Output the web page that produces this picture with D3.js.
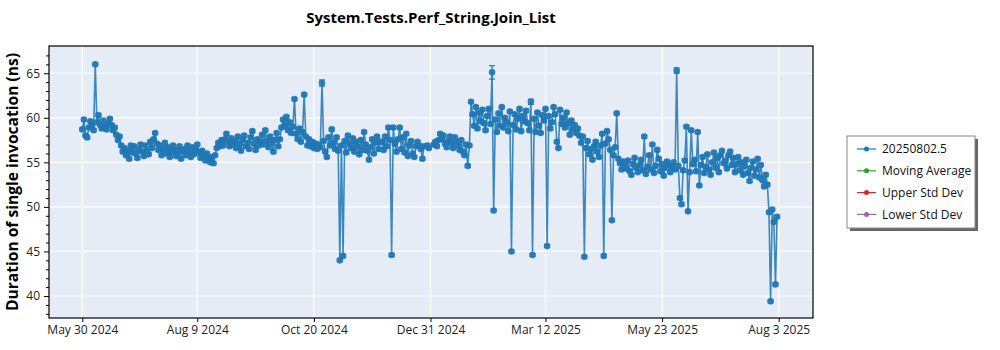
<!DOCTYPE html>
<html>
<head>
<meta charset="utf-8">
<script src="https://cdn.jsdelivr.net/npm/d3@7"></script>
<style>
  body { margin: 0; background: #fff; }
  text { font-family: "Open Sans", "Noto Sans", sans-serif; }
  .tick text { font-size: 12px; fill: #222; }
  .domain { stroke: none; }
</style>
</head>
<body>
<script>
// --- data ---
var chartTitle = "System.Tests.Perf_String.Join_List";
var yLabel = "Duration of single invocation (ns)";
var legendNames = ["20250802.5", "Moving Average", "Upper Std Dev", "Lower Std Dev"];
var legendColors = ["#1f77b4", "#2ca02c", "#d62728", "#9467bd"];

var xTickDates = ["2024-05-30", "2024-08-09", "2024-10-20", "2024-12-31", "2025-03-12", "2025-05-23", "2025-08-03"];
var yTicks = [40, 45, 50, 55, 60, 65];

// first day of each block, values are one per day from there
var blockStarts = ["2024-05-30", "2024-06-01", "2024-07-01", "2024-08-01", "2024-09-01", "2024-10-01", "2024-11-01",
                   "2024-12-01", "2025-01-01", "2025-02-01", "2025-03-01", "2025-04-01", "2025-05-01", "2025-06-01",
                   "2025-07-01", "2025-08-01"];

var may2024 = [58.7, 59.8];
var jun2024 = [58.0, 57.8, 58.9, 59.6, 59.1, 58.6, 66.0, 59.5, 60.3, 59.2, 58.8, 59.7, 59.0, 58.7, 59.4, 59.9, 59.2,
               58.6, 58.9, 58.1, 57.5, 57.9, 56.9, 56.2, 56.6, 55.8, 56.3, 55.4, 56.9, 56.1];
var jul2024 = [56.8, 56.0, 55.5, 56.4, 57.0, 56.2, 55.7, 56.9, 56.3, 55.9, 57.3, 56.6, 57.6, 58.3, 57.1, 56.4, 56.9,
               55.8, 56.5, 57.2, 56.0, 56.7, 55.6, 56.2, 56.9, 56.4, 55.7, 56.1, 56.8, 55.4, 56.3];
var aug2024 = [56.5, 55.8, 56.9, 56.2, 55.6, 56.7, 55.9, 56.4, 57.0, 56.1, 55.5, 56.3, 55.7, 55.2, 56.0, 55.4, 55.0,
               55.6, 54.9, 55.8, 56.6, 57.2, 56.8, 57.5, 56.9, 57.6, 58.2, 57.3, 56.8, 57.7, 57.1];
var sep2024 = [57.4, 56.6, 57.9, 57.0, 56.3, 57.5, 58.0, 56.8, 57.2, 56.5, 57.8, 58.5, 57.1, 56.4, 57.6, 56.9, 57.3,
               58.1, 57.0, 58.6, 57.4, 56.7, 57.9, 57.2, 56.2, 57.5, 58.3, 56.8, 57.6, 58.9];
var oct2024 = [59.8, 59.1, 60.1, 58.6, 59.5, 58.3, 59.0, 62.1, 58.2, 57.6, 58.8, 57.3, 58.4, 62.6, 57.9, 56.9, 57.6,
               56.8, 57.3, 56.6, 57.1, 56.5, 57.0, 56.7, 63.9, 57.4, 56.2, 55.6, 57.8, 56.9, 58.7];
var nov2024 = [57.2, 56.5, 57.8, 56.3, 44.0, 56.9, 44.5, 57.4, 56.1, 58.0, 57.1, 56.6, 57.7, 56.2, 57.3, 56.8, 55.9,
               57.5, 56.4, 58.4, 57.0, 56.3, 55.3, 56.7, 57.6, 56.0, 57.2, 57.9, 56.5, 57.3];
var dec2024 = [57.3, 56.4, 57.9, 56.8, 58.9, 57.5, 44.6, 58.9, 57.1, 56.2, 57.6, 58.9, 56.5, 57.8, 56.1, 58.2, 55.7,
               56.9, 57.4, 56.0, 55.6, 56.8, 57.3, 56.9, 56.5, 55.4, 56.8, null, 56.9, 56.6, null];
var jan2025 = [null, 57.0, 57.3, 56.8, 57.5, 58.2, 57.6, 58.0, 57.1, 56.7, 57.4, 57.9, 57.2, 56.6, 57.8, 57.3, 56.9,
               56.4, 57.5, 56.2, 55.8, 57.0, 54.6, 56.9, 61.8, 60.4, 59.1, 61.2, 58.8, 60.6, 59.6];
var feb2025 = [60.9, 59.4, 58.6, 60.2, 61.0, 59.3, 65.1, 49.6, 59.8, 58.4, 60.5, 59.1, 61.2, 58.9, 60.0, 59.5, 58.5,
               60.7, 45.0, 59.2, 60.4, 58.7, 59.9, 61.0, 58.5, 60.2, 59.6, 60.8];
var mar2025 = [59.4, 58.6, 61.8, 44.6, 59.9, 58.4, 60.6, 59.1, 58.3, 60.3, 59.7, 61.0, 45.6, 60.2, 58.8, 59.5, 61.2,
               60.4, 57.3, 56.6, 60.9, 59.3, 60.0, 58.9, 60.6, 59.4, 58.1, 59.7, 58.7, 59.2, 58.3];
var apr2025 = [58.8, 58.0, 57.2, 57.9, 44.4, 56.6, 57.4, 55.9, 56.5, 55.3, 56.8, 57.3, 56.2, 55.6, 56.9, 58.2, 44.5,
               57.1, 58.5, 57.6, 56.4, 48.5, 55.8, 56.7, 60.5, 55.4, 54.9, 54.2, 55.1, 54.6];
var may2025 = [54.3, 55.2, 54.0, 53.6, 54.8, 55.5, 54.4, 53.9, 54.7, 55.3, 54.1, 57.9, 53.7, 54.5, 55.8, 54.2, 57.0,
               53.8, 54.6, 56.4, 55.4, 54.0, 54.8, 53.5, 54.4, 55.1, 54.7, 53.9, 54.5, 55.0, 54.2];
var jun2025 = [65.3, 54.6, 51.0, 50.3, 54.1, 55.2, 59.0, 49.5, 53.9, 58.6, 54.8, 55.3, 54.0, 58.4, 52.4, 54.7, 55.6,
               53.8, 54.5, 55.9, 54.2, 53.6, 55.0, 56.1, 54.4, 55.5, 53.9, 55.8, 56.3, 54.9];
var jul2025 = [55.2, 54.3, 55.8, 56.2, 54.7, 55.5, 53.9, 54.8, 55.6, 54.1, 55.0, 53.6, 54.6, 55.3, 53.8, 52.9, 54.4,
               55.1, 53.5, 54.2, 55.4, 53.3, 54.7, 53.0, 52.3, 53.6, 52.5, 49.4, 39.4, 49.7, 48.3];
var aug2025 = [41.3, 48.9];

var blocks = [may2024, jun2024, jul2024, aug2024, sep2024, oct2024, nov2024, dec2024,
              jan2025, feb2025, mar2025, apr2025, may2025, jun2025, jul2025, aug2025];

// error bars: half width, with a few wider ones
var typicalError = 0.15;
var wideErrors = [["2024-10-25", 0.35], ["2025-02-07", 0.75], ["2025-03-03", 0.3], ["2025-06-01", 0.3]];

// --- layout ---
var w = 1000;
var h = 350;
var plot = { left: 49, right: 813, top: 46, bottom: 318 };

var parseDay = d3.timeParse("%Y-%m-%d");
var errLookup = {};
wideErrors.forEach(function(e){ errLookup[e[0]] = e[1]; });

var dataset = [];
blocks.forEach(function(vals, b){
    var start = parseDay(blockStarts[b]);
    vals.forEach(function(v, i){
        if (v === null) return;
        var date = d3.timeDay.offset(start, i);
        var key = d3.timeFormat("%Y-%m-%d")(date);
        dataset.push({ date: date, value: v, err: errLookup[key] || typicalError });
    });
});

var svg = d3.select("body")
    .append("svg")
    .attr("width", w)
    .attr("height", h);

var xScale = d3.scaleTime()
    .domain([new Date(2024, 4, 9, 10, 30), new Date(2025, 7, 24, 4, 20)])
    .range([plot.left, plot.right]);

var yScale = d3.scaleLinear()
    .domain([37.53, 68.06])
    .range([plot.bottom, plot.top]);

var xTicks = xTickDates.map(parseDay);

// background
svg.append("rect")
    .attr("x", plot.left)
    .attr("y", plot.top)
    .attr("width", plot.right - plot.left)
    .attr("height", plot.bottom - plot.top)
    .attr("fill", "#e5ecf6");

// grid
svg.append("g")
    .selectAll("line")
    .data(yTicks)
    .enter()
    .append("line")
    .attr("x1", plot.left)
    .attr("x2", plot.right)
    .attr("y1", function(d){ return yScale(d); })
    .attr("y2", function(d){ return yScale(d); })
    .attr("stroke", "#fff")
    .attr("stroke-width", 1.2);

svg.append("g")
    .selectAll("line")
    .data(xTicks)
    .enter()
    .append("line")
    .attr("x1", function(d){ return xScale(d); })
    .attr("x2", function(d){ return xScale(d); })
    .attr("y1", plot.top)
    .attr("y2", plot.bottom)
    .attr("stroke", "#fff")
    .attr("stroke-width", 1.2);

// series
var series = svg.append("g");

series.append("path")
    .datum(dataset)
    .attr("fill", "none")
    .attr("stroke", "#1f77b4")
    .attr("stroke-opacity", 0.85)
    .attr("stroke-width", 1.6)
    .attr("d", d3.line()
        .x(function(d){ return xScale(d.date); })
        .y(function(d){ return yScale(d.value); })
    );

var bars = series.append("g")
    .attr("stroke", "#1f77b4")
    .attr("stroke-width", 1.2)
    .selectAll("g")
    .data(dataset)
    .enter()
    .append("g");

bars.append("line")
    .attr("x1", function(d){ return xScale(d.date); })
    .attr("x2", function(d){ return xScale(d.date); })
    .attr("y1", function(d){ return yScale(d.value - d.err); })
    .attr("y2", function(d){ return yScale(d.value + d.err); });

[-1, 1].forEach(function(sign){
    bars.append("line")
        .attr("x1", function(d){ return xScale(d.date) - 3; })
        .attr("x2", function(d){ return xScale(d.date) + 3; })
        .attr("y1", function(d){ return yScale(d.value + sign * d.err); })
        .attr("y2", function(d){ return yScale(d.value + sign * d.err); });
});

series.append("g")
    .selectAll("circle")
    .data(dataset)
    .enter()
    .append("circle")
    .attr("cx", function(d){ return xScale(d.date); })
    .attr("cy", function(d){ return yScale(d.value); })
    .attr("r", 3.3)
    .attr("fill", "#1f77b4")
    .attr("fill-opacity", 0.9);

// frame
svg.append("rect")
    .attr("x", plot.left)
    .attr("y", plot.top)
    .attr("width", plot.right - plot.left)
    .attr("height", plot.bottom - plot.top)
    .attr("fill", "none")
    .attr("stroke", "#000")
    .attr("stroke-width", 1.2);

// axes
var xAxis = d3.axisBottom(xScale)
    .tickValues(xTicks)
    .tickSize(4)
    .tickFormat(d3.timeFormat("%b %-d %Y"));

svg.append("g")
    .attr("transform", "translate(0," + plot.bottom + ")")
    .call(xAxis);

var yAxis = d3.axisLeft(yScale)
    .tickValues(yTicks)
    .tickSize(5)
    .tickPadding(4);

svg.append("g")
    .attr("transform", "translate(" + plot.left + ",0)")
    .call(yAxis);

var yMinor = d3.axisLeft(yScale)
    .tickValues(d3.range(38, 68).filter(function(v){ return v % 5 !== 0; }))
    .tickSize(3)
    .tickFormat("");

svg.append("g")
    .attr("transform", "translate(" + plot.left + ",0)")
    .call(yMinor);

svg.selectAll(".tick line").attr("stroke", "#000");

// title and label
svg.append("text")
    .attr("x", (plot.left + plot.right) / 2)
    .attr("y", 23)
    .attr("text-anchor", "middle")
    .style("font-size", "15px")
    .style("font-weight", "bold")
    .text(chartTitle);

svg.append("text")
    .attr("transform", "translate(18," + (plot.top + plot.bottom) / 2 + ") rotate(-90)")
    .attr("text-anchor", "middle")
    .style("font-size", "15.6px")
    .style("font-weight", "bold")
    .text(yLabel);

// legend
var legend = svg.append("g")
    .attr("transform", "translate(847,136)");

legend.append("rect")
    .attr("x", 3)
    .attr("y", 3)
    .attr("width", 128)
    .attr("height", 92)
    .attr("fill", "#666");

legend.append("rect")
    .attr("width", 128)
    .attr("height", 92)
    .attr("fill", "#fff")
    .attr("stroke", "#888");

var items = legend.selectAll(".item")
    .data(legendNames)
    .enter()
    .append("g")
    .attr("class", "item")
    .attr("transform", function(d, i){ return "translate(0," + (13 + i * 21.8) + ")"; });

items.append("line")
    .attr("x1", 10)
    .attr("x2", 29)
    .attr("stroke", function(d, i){ return legendColors[i]; })
    .attr("stroke-width", 1.2);

items.append("circle")
    .attr("cx", 19.5)
    .attr("r", 2.5)
    .attr("fill", function(d, i){ return legendColors[i]; });

items.append("text")
    .attr("x", 35)
    .attr("dy", "0.35em")
    .style("font-size", "12px")
    .attr("fill", "#111")
    .text(function(d){ return d; });
</script>
</body>
</html>
